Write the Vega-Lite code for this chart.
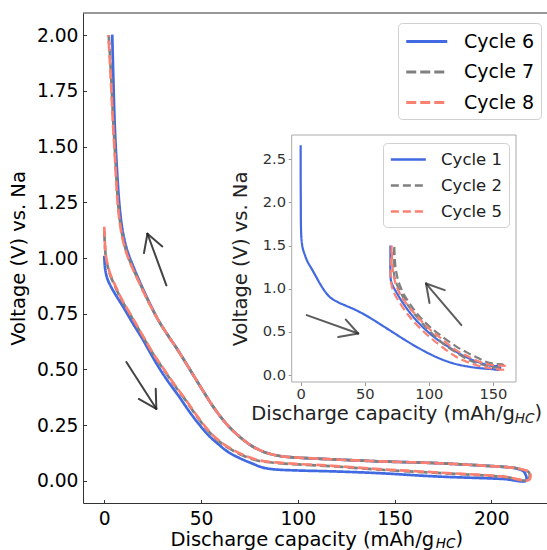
{
  "$schema": "https://vega.github.io/schema/vega-lite/v6.json",
  "width": 464,
  "height": 490,
  "autosize": "none",
  "padding": {"left": 83, "top": 13, "right": 0, "bottom": 47},
  "config": {
    "font": "DejaVu Sans",
    "view": {"stroke": null},
    "axis": {"grid": false, "labelFlush": false, "labelOverlap": false, "titleFontWeight": "normal"},
    "legend": {"fillColor": "white", "strokeColor": "#d0d0d0", "cornerRadius": 4, "symbolType": "M-1,0H3", "labelColor": "#000", "title": null}
  },
  "datasets": {
    "main": [
      {"c":"Cycle 6","i":0,"x":0,"v":1.01},{"c":"Cycle 6","i":1,"x":0.4,"v":0.955},{"c":"Cycle 6","i":2,"x":1.3,"v":0.915},{"c":"Cycle 6","i":3,"x":2.6,"v":0.886},{"c":"Cycle 6","i":4,"x":5.5,"v":0.84},{"c":"Cycle 6","i":5,"x":9.8,"v":0.78},{"c":"Cycle 6","i":6,"x":15,"v":0.703},{"c":"Cycle 6","i":7,"x":19.3,"v":0.643},{"c":"Cycle 6","i":8,"x":26.7,"v":0.53},{"c":"Cycle 6","i":9,"x":32,"v":0.458},{"c":"Cycle 6","i":10,"x":38.8,"v":0.376},{"c":"Cycle 6","i":11,"x":44,"v":0.31},{"c":"Cycle 6","i":12,"x":49.1,"v":0.252},{"c":"Cycle 6","i":13,"x":54,"v":0.203},{"c":"Cycle 6","i":14,"x":59.5,"v":0.16},{"c":"Cycle 6","i":15,"x":64,"v":0.129},{"c":"Cycle 6","i":16,"x":69.8,"v":0.102},{"c":"Cycle 6","i":17,"x":76,"v":0.079},{"c":"Cycle 6","i":18,"x":82,"v":0.059},{"c":"Cycle 6","i":19,"x":88,"v":0.051},{"c":"Cycle 6","i":20,"x":100,"v":0.046},{"c":"Cycle 6","i":21,"x":118,"v":0.042},{"c":"Cycle 6","i":22,"x":142,"v":0.034},{"c":"Cycle 6","i":23,"x":172,"v":0.019},{"c":"Cycle 6","i":24,"x":206,"v":0.008},{"c":"Cycle 6","i":25,"x":218,"v":0.001},
      {"c":"Cycle 6","i":26,"x":217,"v":0.039},{"c":"Cycle 6","i":27,"x":213,"v":0.055},{"c":"Cycle 6","i":28,"x":205,"v":0.063},{"c":"Cycle 6","i":29,"x":197.5,"v":0.067},{"c":"Cycle 6","i":30,"x":171.6,"v":0.079},{"c":"Cycle 6","i":31,"x":142,"v":0.087},{"c":"Cycle 6","i":32,"x":118,"v":0.096},{"c":"Cycle 6","i":33,"x":97.4,"v":0.105},{"c":"Cycle 6","i":34,"x":90,"v":0.112},{"c":"Cycle 6","i":35,"x":83.6,"v":0.126},{"c":"Cycle 6","i":36,"x":77,"v":0.152},{"c":"Cycle 6","i":37,"x":71.5,"v":0.186},{"c":"Cycle 6","i":38,"x":66,"v":0.229},{"c":"Cycle 6","i":39,"x":61.2,"v":0.275},{"c":"Cycle 6","i":40,"x":56,"v":0.336},{"c":"Cycle 6","i":41,"x":52,"v":0.39},{"c":"Cycle 6","i":42,"x":47,"v":0.46},{"c":"Cycle 6","i":43,"x":42.3,"v":0.527},{"c":"Cycle 6","i":44,"x":37,"v":0.6},{"c":"Cycle 6","i":45,"x":32.7,"v":0.655},{"c":"Cycle 6","i":46,"x":28,"v":0.72},{"c":"Cycle 6","i":47,"x":23.3,"v":0.8},{"c":"Cycle 6","i":48,"x":18.5,"v":0.89},{"c":"Cycle 6","i":49,"x":14.6,"v":0.97},{"c":"Cycle 6","i":50,"x":12,"v":1.03},{"c":"Cycle 6","i":51,"x":10.2,"v":1.09},{"c":"Cycle 6","i":52,"x":8.8,"v":1.16},{"c":"Cycle 6","i":53,"x":7.6,"v":1.26},{"c":"Cycle 6","i":54,"x":6.1,"v":1.468},{"c":"Cycle 6","i":55,"x":5.3,"v":1.62},{"c":"Cycle 6","i":56,"x":4.8,"v":1.767},{"c":"Cycle 6","i":57,"x":4.4,"v":1.9},{"c":"Cycle 6","i":58,"x":4.1,"v":2.003},
      {"c":"Cycle 7","i":0,"x":0,"v":1.12},{"c":"Cycle 7","i":1,"x":0.3,"v":1.06},{"c":"Cycle 7","i":2,"x":0.9,"v":1.0},{"c":"Cycle 7","i":3,"x":3,"v":0.925},{"c":"Cycle 7","i":4,"x":6,"v":0.865},{"c":"Cycle 7","i":5,"x":9,"v":0.81},{"c":"Cycle 7","i":6,"x":13,"v":0.752},{"c":"Cycle 7","i":7,"x":20.7,"v":0.636},{"c":"Cycle 7","i":8,"x":25,"v":0.572},{"c":"Cycle 7","i":9,"x":30.2,"v":0.505},{"c":"Cycle 7","i":10,"x":36,"v":0.432},{"c":"Cycle 7","i":11,"x":42.3,"v":0.358},{"c":"Cycle 7","i":12,"x":48,"v":0.287},{"c":"Cycle 7","i":13,"x":54.3,"v":0.218},{"c":"Cycle 7","i":14,"x":60,"v":0.172},{"c":"Cycle 7","i":15,"x":66.4,"v":0.136},{"c":"Cycle 7","i":16,"x":72,"v":0.112},{"c":"Cycle 7","i":17,"x":78.5,"v":0.092},{"c":"Cycle 7","i":18,"x":84,"v":0.084},{"c":"Cycle 7","i":19,"x":88.8,"v":0.08},{"c":"Cycle 7","i":20,"x":100,"v":0.073},{"c":"Cycle 7","i":21,"x":118,"v":0.065},{"c":"Cycle 7","i":22,"x":142,"v":0.05},{"c":"Cycle 7","i":23,"x":172,"v":0.035},{"c":"Cycle 7","i":24,"x":206,"v":0.018},{"c":"Cycle 7","i":25,"x":219,"v":0.004},
      {"c":"Cycle 7","i":26,"x":219.5,"v":0.037},{"c":"Cycle 7","i":27,"x":217.5,"v":0.046},{"c":"Cycle 7","i":28,"x":213,"v":0.056},{"c":"Cycle 7","i":29,"x":205,"v":0.063},{"c":"Cycle 7","i":30,"x":197.5,"v":0.067},{"c":"Cycle 7","i":31,"x":171.6,"v":0.079},{"c":"Cycle 7","i":32,"x":142,"v":0.087},{"c":"Cycle 7","i":33,"x":118,"v":0.096},{"c":"Cycle 7","i":34,"x":97.4,"v":0.105},{"c":"Cycle 7","i":35,"x":90,"v":0.112},{"c":"Cycle 7","i":36,"x":83.6,"v":0.126},{"c":"Cycle 7","i":37,"x":77,"v":0.152},{"c":"Cycle 7","i":38,"x":71.5,"v":0.186},{"c":"Cycle 7","i":39,"x":66,"v":0.229},{"c":"Cycle 7","i":40,"x":61.2,"v":0.275},{"c":"Cycle 7","i":41,"x":56,"v":0.336},{"c":"Cycle 7","i":42,"x":52,"v":0.39},{"c":"Cycle 7","i":43,"x":47,"v":0.46},{"c":"Cycle 7","i":44,"x":42.3,"v":0.527},{"c":"Cycle 7","i":45,"x":37,"v":0.6},{"c":"Cycle 7","i":46,"x":32.7,"v":0.655},{"c":"Cycle 7","i":47,"x":28,"v":0.72},{"c":"Cycle 7","i":48,"x":23.1,"v":0.8},{"c":"Cycle 7","i":49,"x":18.2,"v":0.89},{"c":"Cycle 7","i":50,"x":14,"v":0.97},{"c":"Cycle 7","i":51,"x":11.4,"v":1.03},{"c":"Cycle 7","i":52,"x":9.6,"v":1.09},{"c":"Cycle 7","i":53,"x":8.2,"v":1.16},{"c":"Cycle 7","i":54,"x":7,"v":1.26},{"c":"Cycle 7","i":55,"x":5.6,"v":1.468},{"c":"Cycle 7","i":56,"x":4.6,"v":1.62},{"c":"Cycle 7","i":57,"x":3.8,"v":1.767},{"c":"Cycle 7","i":58,"x":3,"v":1.9},{"c":"Cycle 7","i":59,"x":2.3,"v":2.0},
      {"c":"Cycle 8","i":0,"x":0,"v":1.14},{"c":"Cycle 8","i":1,"x":0.3,"v":1.07},{"c":"Cycle 8","i":2,"x":0.9,"v":1.005},{"c":"Cycle 8","i":3,"x":3,"v":0.93},{"c":"Cycle 8","i":4,"x":6,"v":0.87},{"c":"Cycle 8","i":5,"x":9,"v":0.815},{"c":"Cycle 8","i":6,"x":13,"v":0.755},{"c":"Cycle 8","i":7,"x":20.7,"v":0.639},{"c":"Cycle 8","i":8,"x":25,"v":0.575},{"c":"Cycle 8","i":9,"x":30.2,"v":0.508},{"c":"Cycle 8","i":10,"x":36,"v":0.435},{"c":"Cycle 8","i":11,"x":42.3,"v":0.361},{"c":"Cycle 8","i":12,"x":48,"v":0.29},{"c":"Cycle 8","i":13,"x":54.3,"v":0.221},{"c":"Cycle 8","i":14,"x":60,"v":0.175},{"c":"Cycle 8","i":15,"x":66.4,"v":0.139},{"c":"Cycle 8","i":16,"x":72,"v":0.115},{"c":"Cycle 8","i":17,"x":78.5,"v":0.095},{"c":"Cycle 8","i":18,"x":84,"v":0.086},{"c":"Cycle 8","i":19,"x":88.8,"v":0.082},{"c":"Cycle 8","i":20,"x":100,"v":0.075},{"c":"Cycle 8","i":21,"x":118,"v":0.067},{"c":"Cycle 8","i":22,"x":142,"v":0.052},{"c":"Cycle 8","i":23,"x":172,"v":0.037},{"c":"Cycle 8","i":24,"x":206,"v":0.019},{"c":"Cycle 8","i":25,"x":219.5,"v":0.004},
      {"c":"Cycle 8","i":26,"x":220,"v":0.037},{"c":"Cycle 8","i":27,"x":218,"v":0.046},{"c":"Cycle 8","i":28,"x":213,"v":0.056},{"c":"Cycle 8","i":29,"x":205,"v":0.063},{"c":"Cycle 8","i":30,"x":197.5,"v":0.067},{"c":"Cycle 8","i":31,"x":171.6,"v":0.079},{"c":"Cycle 8","i":32,"x":142,"v":0.087},{"c":"Cycle 8","i":33,"x":118,"v":0.096},{"c":"Cycle 8","i":34,"x":97.4,"v":0.105},{"c":"Cycle 8","i":35,"x":90,"v":0.112},{"c":"Cycle 8","i":36,"x":83.6,"v":0.126},{"c":"Cycle 8","i":37,"x":77,"v":0.152},{"c":"Cycle 8","i":38,"x":71.5,"v":0.186},{"c":"Cycle 8","i":39,"x":66,"v":0.229},{"c":"Cycle 8","i":40,"x":61.2,"v":0.275},{"c":"Cycle 8","i":41,"x":56,"v":0.336},{"c":"Cycle 8","i":42,"x":52,"v":0.39},{"c":"Cycle 8","i":43,"x":47,"v":0.46},{"c":"Cycle 8","i":44,"x":42.3,"v":0.527},{"c":"Cycle 8","i":45,"x":37,"v":0.6},{"c":"Cycle 8","i":46,"x":32.7,"v":0.655},{"c":"Cycle 8","i":47,"x":28,"v":0.72},{"c":"Cycle 8","i":48,"x":23,"v":0.8},{"c":"Cycle 8","i":49,"x":18,"v":0.89},{"c":"Cycle 8","i":50,"x":13.8,"v":0.97},{"c":"Cycle 8","i":51,"x":11.2,"v":1.03},{"c":"Cycle 8","i":52,"x":9.4,"v":1.09},{"c":"Cycle 8","i":53,"x":8,"v":1.16},{"c":"Cycle 8","i":54,"x":6.8,"v":1.26},{"c":"Cycle 8","i":55,"x":5.4,"v":1.468},{"c":"Cycle 8","i":56,"x":4.4,"v":1.62},{"c":"Cycle 8","i":57,"x":3.6,"v":1.767},{"c":"Cycle 8","i":58,"x":2.8,"v":1.9},{"c":"Cycle 8","i":59,"x":2.1,"v":2.0}
    ],
    "inset": [
      {"c":"Cycle 1","i":0,"x":0,"v":2.66},{"c":"Cycle 1","i":1,"x":0,"v":2.3},{"c":"Cycle 1","i":2,"x":0.1,"v":2.0},{"c":"Cycle 1","i":3,"x":0.2,"v":1.75},{"c":"Cycle 1","i":4,"x":0.6,"v":1.58},{"c":"Cycle 1","i":5,"x":1.6,"v":1.47},{"c":"Cycle 1","i":6,"x":3.3,"v":1.39},{"c":"Cycle 1","i":7,"x":5.5,"v":1.31},{"c":"Cycle 1","i":8,"x":8.6,"v":1.23},{"c":"Cycle 1","i":9,"x":12,"v":1.14},{"c":"Cycle 1","i":10,"x":15,"v":1.06},{"c":"Cycle 1","i":11,"x":18.9,"v":0.97},{"c":"Cycle 1","i":12,"x":23,"v":0.9},{"c":"Cycle 1","i":13,"x":29,"v":0.845},{"c":"Cycle 1","i":14,"x":35,"v":0.805},{"c":"Cycle 1","i":15,"x":42,"v":0.76},{"c":"Cycle 1","i":16,"x":48,"v":0.715},{"c":"Cycle 1","i":17,"x":55,"v":0.655},{"c":"Cycle 1","i":18,"x":63,"v":0.58},{"c":"Cycle 1","i":19,"x":72,"v":0.495},{"c":"Cycle 1","i":20,"x":81,"v":0.41},{"c":"Cycle 1","i":21,"x":90,"v":0.33},{"c":"Cycle 1","i":22,"x":100,"v":0.25},{"c":"Cycle 1","i":23,"x":110,"v":0.182},{"c":"Cycle 1","i":24,"x":120,"v":0.132},{"c":"Cycle 1","i":25,"x":130,"v":0.1},{"c":"Cycle 1","i":26,"x":140,"v":0.08},{"c":"Cycle 1","i":27,"x":150,"v":0.068},{"c":"Cycle 1","i":28,"x":155,"v":0.062},
      {"c":"Cycle 1","i":29,"x":155.5,"v":0.1},{"c":"Cycle 1","i":30,"x":150,"v":0.105},{"c":"Cycle 1","i":31,"x":145,"v":0.12},{"c":"Cycle 1","i":32,"x":135,"v":0.17},{"c":"Cycle 1","i":33,"x":125,"v":0.24},{"c":"Cycle 1","i":34,"x":115,"v":0.33},{"c":"Cycle 1","i":35,"x":105,"v":0.43},{"c":"Cycle 1","i":36,"x":95,"v":0.56},{"c":"Cycle 1","i":37,"x":87,"v":0.69},{"c":"Cycle 1","i":38,"x":80,"v":0.83},{"c":"Cycle 1","i":39,"x":75,"v":0.95},{"c":"Cycle 1","i":40,"x":72,"v":1.03},{"c":"Cycle 1","i":41,"x":70.5,"v":1.09},{"c":"Cycle 1","i":42,"x":70,"v":1.2},{"c":"Cycle 1","i":43,"x":70,"v":1.35},{"c":"Cycle 1","i":44,"x":70,"v":1.5},
      {"c":"Cycle 2","i":0,"x":73,"v":1.48},{"c":"Cycle 2","i":1,"x":72.5,"v":1.3},{"c":"Cycle 2","i":2,"x":73,"v":1.15},{"c":"Cycle 2","i":3,"x":75,"v":1.05},{"c":"Cycle 2","i":4,"x":80,"v":0.9},{"c":"Cycle 2","i":5,"x":85,"v":0.78},{"c":"Cycle 2","i":6,"x":92,"v":0.65},{"c":"Cycle 2","i":7,"x":100,"v":0.52},{"c":"Cycle 2","i":8,"x":110,"v":0.38},{"c":"Cycle 2","i":9,"x":121.5,"v":0.26},{"c":"Cycle 2","i":10,"x":132,"v":0.17},{"c":"Cycle 2","i":11,"x":142,"v":0.12},{"c":"Cycle 2","i":12,"x":150,"v":0.095},{"c":"Cycle 2","i":13,"x":157,"v":0.085},
      {"c":"Cycle 2","i":14,"x":158,"v":0.12},{"c":"Cycle 2","i":15,"x":152,"v":0.13},{"c":"Cycle 2","i":16,"x":145,"v":0.15},{"c":"Cycle 2","i":17,"x":138,"v":0.2},{"c":"Cycle 2","i":18,"x":130,"v":0.26},{"c":"Cycle 2","i":19,"x":121.5,"v":0.33},{"c":"Cycle 2","i":20,"x":110,"v":0.45},{"c":"Cycle 2","i":21,"x":100.7,"v":0.56},{"c":"Cycle 2","i":22,"x":92,"v":0.69},{"c":"Cycle 2","i":23,"x":85,"v":0.83},{"c":"Cycle 2","i":24,"x":80,"v":0.95},{"c":"Cycle 2","i":25,"x":76,"v":1.1},{"c":"Cycle 2","i":26,"x":74,"v":1.25},{"c":"Cycle 2","i":27,"x":73,"v":1.5},
      {"c":"Cycle 5","i":0,"x":71,"v":1.5},{"c":"Cycle 5","i":1,"x":70.5,"v":1.3},{"c":"Cycle 5","i":2,"x":70,"v":1.15},{"c":"Cycle 5","i":3,"x":70.5,"v":1.08},{"c":"Cycle 5","i":4,"x":72,"v":0.98},{"c":"Cycle 5","i":5,"x":78,"v":0.82},{"c":"Cycle 5","i":6,"x":85,"v":0.675},{"c":"Cycle 5","i":7,"x":92,"v":0.56},{"c":"Cycle 5","i":8,"x":100.7,"v":0.44},{"c":"Cycle 5","i":9,"x":110,"v":0.33},{"c":"Cycle 5","i":10,"x":121.5,"v":0.21},{"c":"Cycle 5","i":11,"x":132,"v":0.14},{"c":"Cycle 5","i":12,"x":142,"v":0.096},{"c":"Cycle 5","i":13,"x":150,"v":0.075},{"c":"Cycle 5","i":14,"x":159,"v":0.066},
      {"c":"Cycle 5","i":15,"x":160,"v":0.1},{"c":"Cycle 5","i":16,"x":155,"v":0.11},{"c":"Cycle 5","i":17,"x":148,"v":0.12},{"c":"Cycle 5","i":18,"x":140,"v":0.15},{"c":"Cycle 5","i":19,"x":130,"v":0.22},{"c":"Cycle 5","i":20,"x":120,"v":0.3},{"c":"Cycle 5","i":21,"x":110,"v":0.42},{"c":"Cycle 5","i":22,"x":100,"v":0.54},{"c":"Cycle 5","i":23,"x":92,"v":0.66},{"c":"Cycle 5","i":24,"x":85,"v":0.78},{"c":"Cycle 5","i":25,"x":79,"v":0.9},{"c":"Cycle 5","i":26,"x":75,"v":1.02},{"c":"Cycle 5","i":27,"x":72.5,"v":1.15},{"c":"Cycle 5","i":28,"x":71.5,"v":1.3},{"c":"Cycle 5","i":29,"x":71,"v":1.5}
    ],
    "arrowsMain": [
      {"x1":11.4,"y1":0.533,"x2":26.9,"y2":0.323},
      {"x1":17.8,"y1":0.367,"x2":26.9,"y2":0.323},
      {"x1":26.6,"y1":0.413,"x2":26.9,"y2":0.323},
      {"x1":32.1,"y1":0.877,"x2":22.3,"y2":1.109},
      {"x1":30.0,"y1":1.052,"x2":22.3,"y2":1.109},
      {"x1":20.5,"y1":1.022,"x2":22.3,"y2":1.109}
    ],
    "arrowsInset": [
      {"x1":4.7,"y1":0.694,"x2":44.9,"y2":0.482},
      {"x1":35.2,"y1":0.643,"x2":44.9,"y2":0.482},
      {"x1":29.3,"y1":0.44,"x2":44.9,"y2":0.482},
      {"x1":125.4,"y1":0.579,"x2":97.8,"y2":1.06},
      {"x1":112.4,"y1":0.984,"x2":97.8,"y2":1.06},
      {"x1":100.5,"y1":0.835,"x2":97.8,"y2":1.06}
    ]
  },
  "layer": [
    {
      "layer": [
        {
          "data": {"name": "main"},
          "mark": {"type": "line", "strokeWidth": 2.7, "strokeCap": "butt", "interpolate": "catmull-rom"},
          "encoding": {
            "x": {"field": "x", "type": "quantitative",
              "scale": {"domain": [-11, 228.8], "nice": false, "zero": false},
              "axis": {"title": "Discharge capacity (mAh/g", "values": [0, 50, 100, 150, 200], "format": "d",
                "tickSize": -3.5, "tickColor": "#333", "domainColor": "#333", "labelFontSize": 18.7, "labelColor": "#000", "labelPadding": 10,
                "titleFontSize": 19.5, "titleColor": "#000", "titleAnchor": "start", "titleAlign": "left", "titleBaseline": "alphabetic", "titleX": 87, "titleY": 42}},
            "y": {"field": "v", "type": "quantitative",
              "scale": {"domain": [-0.1, 2.1], "nice": false, "zero": false},
              "axis": {"title": "Voltage (V) vs. Na", "values": [0, 0.25, 0.5, 0.75, 1, 1.25, 1.5, 1.75, 2], "format": ".2f",
                "tickSize": -3.5, "tickColor": "#333", "domainColor": "#333", "labelFontSize": 18.7, "labelColor": "#000", "labelPadding": 8.5,
                "titleFontSize": 19.5, "titleColor": "#000", "titleAngle": 270, "titleAlign": "center", "titleBaseline": "middle", "titleX": -65, "titleY": 245}},
            "color": {"field": "c", "type": "nominal",
              "scale": {"domain": ["Cycle 6", "Cycle 7", "Cycle 8"], "range": ["#4169E1", "#808080", "#FA8072"]},
              "legend": {"orient": "none", "legendX": 315, "legendY": 10, "labelFontSize": 19, "symbolSize": 420, "symbolStrokeWidth": 3, "rowPadding": 8.5, "padding": 6.5, "labelOffset": 35.5}},
            "strokeDash": {"field": "c", "type": "nominal",
              "scale": {"domain": ["Cycle 6", "Cycle 7", "Cycle 8"], "range": [[1, 0], [10, 4], [10, 4]]},
              "legend": {"orient": "none", "legendX": 315, "legendY": 10, "labelFontSize": 19, "symbolSize": 420, "symbolStrokeWidth": 3, "rowPadding": 8.5, "padding": 6.5, "labelOffset": 35.5}},
            "order": {"field": "i", "type": "quantitative"}
          }
        },
        {
          "data": {"name": "arrowsMain"},
          "mark": {"type": "rule", "color": "#222", "strokeWidth": 2, "opacity": 0.85, "strokeCap": "round"},
          "encoding": {
            "x": {"field": "x1", "type": "quantitative"},
            "y": {"field": "y1", "type": "quantitative"},
            "x2": {"field": "x2"},
            "y2": {"field": "y2"}
          }
        },
        {
          "data": {"values": [{}]},
          "mark": {"type": "rule", "color": "#333", "strokeWidth": 1},
          "encoding": {"y": {"datum": 2.1}}
        },
        {
          "data": {"values": [{}]},
          "mark": {"type": "text", "fontSize": 13.6, "fontStyle": "italic", "align": "left", "baseline": "alphabetic", "color": "#000"},
          "encoding": {"x": {"datum": 171.3}, "y": {"datum": -0.3035}, "text": {"value": "HC"}}
        },
        {
          "data": {"values": [{}]},
          "mark": {"type": "text", "fontSize": 19.5, "align": "left", "baseline": "alphabetic", "color": "#000"},
          "encoding": {"x": {"datum": 181.5}, "y": {"datum": -0.2885}, "text": {"value": ")"}}
        }
      ]
    },
    {
      "layer": [
        {
          "data": {"values": [{}]},
          "mark": {"type": "rect", "fill": "white", "stroke": "#aaa", "strokeWidth": 1},
          "encoding": {
            "x": {"datum": -7, "type": "quantitative",
              "scale": {"domain": [-7, 168], "range": [208.7, 433], "nice": false, "zero": false},
              "axis": {"orient": "bottom", "offset": -121, "title": "Discharge capacity (mAh/g", "values": [0, 50, 100, 150], "format": "d",
                "domain": false, "tickSize": 3.5, "tickColor": "#999", "labelFontSize": 14.7, "labelColor": "#333", "labelPadding": 1,
                "titleFontSize": 19.5, "titleColor": "#222", "titleAnchor": "start", "titleAlign": "left", "titleBaseline": "alphabetic", "titleX": 167.7, "titleY": 37}},
            "x2": {"datum": 168},
            "y": {"datum": -0.08, "type": "quantitative",
              "scale": {"domain": [-0.08, 2.78], "range": [369, 122], "nice": false, "zero": false},
              "axis": {"orient": "left", "offset": -208.7, "title": "Voltage (V) vs. Na", "values": [0, 0.5, 1, 1.5, 2, 2.5], "format": ".1f",
                "domain": false, "tickSize": 3.5, "tickColor": "#999", "labelFontSize": 14.7, "labelColor": "#333", "labelPadding": 2.7,
                "titleFontSize": 19.5, "titleColor": "#222", "titleAngle": 270, "titleAlign": "center", "titleBaseline": "middle", "titleX": -51.7, "titleY": 245.5}},
            "y2": {"datum": 2.78}
          }
        },
        {
          "data": {"name": "inset"},
          "mark": {"type": "line", "strokeWidth": 2.2, "strokeCap": "butt", "interpolate": "catmull-rom"},
          "encoding": {
            "x": {"field": "x", "type": "quantitative"},
            "y": {"field": "v", "type": "quantitative"},
            "color": {"field": "c", "type": "nominal",
              "scale": {"domain": ["Cycle 1", "Cycle 2", "Cycle 5"], "range": ["#4169E1", "#808080", "#FA8072"]},
              "legend": {"orient": "none", "legendX": 300, "legendY": 130, "labelFontSize": 16.5, "labelColor": "#222", "symbolSize": 306, "symbolStrokeWidth": 2.5, "rowPadding": 7, "padding": 6.6, "labelOffset": 31.5}},
            "strokeDash": {"field": "c", "type": "nominal",
              "scale": {"domain": ["Cycle 1", "Cycle 2", "Cycle 5"], "range": [[1, 0], [8, 4], [8, 4]]},
              "legend": {"orient": "none", "legendX": 300, "legendY": 130, "labelFontSize": 16.5, "labelColor": "#222", "symbolSize": 306, "symbolStrokeWidth": 2.5, "rowPadding": 7, "padding": 6.6, "labelOffset": 31.5}},
            "order": {"field": "i", "type": "quantitative"}
          }
        },
        {
          "data": {"name": "arrowsInset"},
          "mark": {"type": "rule", "color": "#333", "strokeWidth": 2, "opacity": 0.8, "strokeCap": "round"},
          "encoding": {
            "x": {"field": "x1", "type": "quantitative"},
            "y": {"field": "y1", "type": "quantitative"},
            "x2": {"field": "x2"},
            "y2": {"field": "y2"}
          }
        },
        {
          "data": {"values": [{}]},
          "mark": {"type": "text", "fontSize": 13.6, "fontStyle": "italic", "align": "left", "baseline": "alphabetic", "color": "#222"},
          "encoding": {"x": {"datum": 167.0}, "y": {"datum": -0.555}, "text": {"value": "HC"}}
        },
        {
          "data": {"values": [{}]},
          "mark": {"type": "text", "fontSize": 19.5, "align": "left", "baseline": "alphabetic", "color": "#222"},
          "encoding": {"x": {"datum": 182.4}, "y": {"datum": -0.509}, "text": {"value": ")"}}
        }
      ]
    }
  ],
  "resolve": {
    "scale": {"x": "independent", "y": "independent", "color": "independent", "strokeDash": "independent"},
    "axis": {"x": "independent", "y": "independent"},
    "legend": {"color": "independent", "strokeDash": "independent"}
  }
}
